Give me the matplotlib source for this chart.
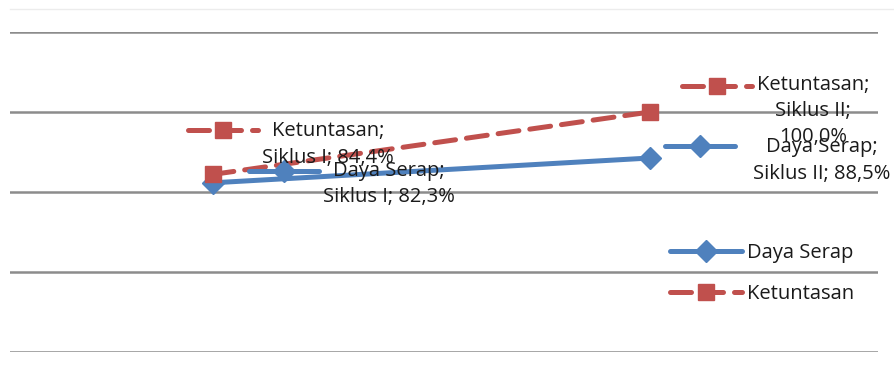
import matplotlib
matplotlib.use("Agg")
import matplotlib.pyplot as plt
from matplotlib.lines import Line2D
from matplotlib.transforms import IdentityTransform

categories = ["Siklus I", "Siklus II"]
daya_serap = [82.3, 88.5]
ketuntasan = [84.4, 100.0]
series_names = ["Daya Serap", "Ketuntasan"]
y_ticks = [40, 60, 80, 100, 120]

BLUE = "#4F81BD"
RED = "#C0504D"
TXT = "#1a1a1a"
FONT = "Open Sans"
FS = 14.5

W, H = 894, 366
fig = plt.figure(figsize=(W / 100, H / 100), dpi=100)
ax = fig.add_axes([10 / W, (H - 352) / H, 868 / W, 320 / H])
ax.set_ylim(40, 120)
ax.set_xlim(-0.4645, 1.5217)
for s in ax.spines.values():
    s.set_visible(False)
ax.set_xticks([])
ax.set_yticks(y_ticks)
ax.tick_params(left=False, labelleft=False)
ax.yaxis.grid(True, color="#8c8c8c", lw=1.8)
ax.set_axisbelow(True)

fig.add_artist(Line2D([10 / W, 1.0], [(H - 9) / H] * 2, transform=fig.transFigure,
                      color="#ececec", lw=1))

x = list(range(len(categories)))
blue_style = dict(color=BLUE, lw=3.6, marker="D", ms=11.5, solid_capstyle="round")
red_style = dict(color=RED, lw=3.6, ls=(0, (4.2, 2.2)), marker="s", ms=11,
                 dash_capstyle="round")
ax.plot(x, daya_serap, label=series_names[0], **blue_style)
ax.plot(x, ketuntasan, label=series_names[1], **red_style)

fig.canvas.draw()

def key(px, py, style):
    fig.add_artist(Line2D([px - 35, px + 35], [py, py], transform=IdentityTransform(),
                          markevery=[], **style))
    fig.add_artist(Line2D([px], [py], transform=IdentityTransform(),
                          color=style["color"], marker=style["marker"], ms=style["ms"], lw=0))

def data_label(xi, yi, name, keyoff, txtoff, lines):
    px, py = ax.transData.transform((xi, yi))
    style = blue_style if name == series_names[0] else red_style
    key(px + keyoff[0], py + keyoff[1], style)
    fig.text(px + txtoff[0], py + txtoff[1], lines, transform=IdentityTransform(),
             ha="center", va="center", family=FONT, fontsize=FS, color=TXT,
             linespacing=1.42)

def fmt(v):
    return f"{v:.1f}".replace(".", ",") + "%"

data_label(0, ketuntasan[0], series_names[1], (10, 44), (115, 30),
           f"{series_names[1]};\n{categories[0]}; {fmt(ketuntasan[0])}")
data_label(0, daya_serap[0], series_names[0], (71, 12), (176, -1.5),
           f"{series_names[0]};\n{categories[0]}; {fmt(daya_serap[0])}")
data_label(1, ketuntasan[1], series_names[1], (67, 26), (163, 1),
           f"{series_names[1]};\n{categories[1]};\n{fmt(ketuntasan[1])}")
data_label(1, daya_serap[1], series_names[0], (50, 12), (172, -2.5),
           f"{series_names[0]};\n{categories[1]}; {fmt(daya_serap[1])}")

fpx = FS * 100 / 72
handles = [Line2D([], [], **blue_style), Line2D([], [], **red_style)]
leg = fig.legend(handles, series_names, loc="center left", frameon=False,
                 bbox_to_anchor=(670 / W, (H - 273.5) / H),
                 prop={"family": FONT, "size": FS}, handlelength=72 / fpx,
                 handletextpad=5 / fpx, labelspacing=(45 - 1.2 * fpx) / fpx,
                 borderpad=0, borderaxespad=0)
for t in leg.get_texts():
    t.set_color(TXT)

fig.savefig("out.png", dpi=100)
